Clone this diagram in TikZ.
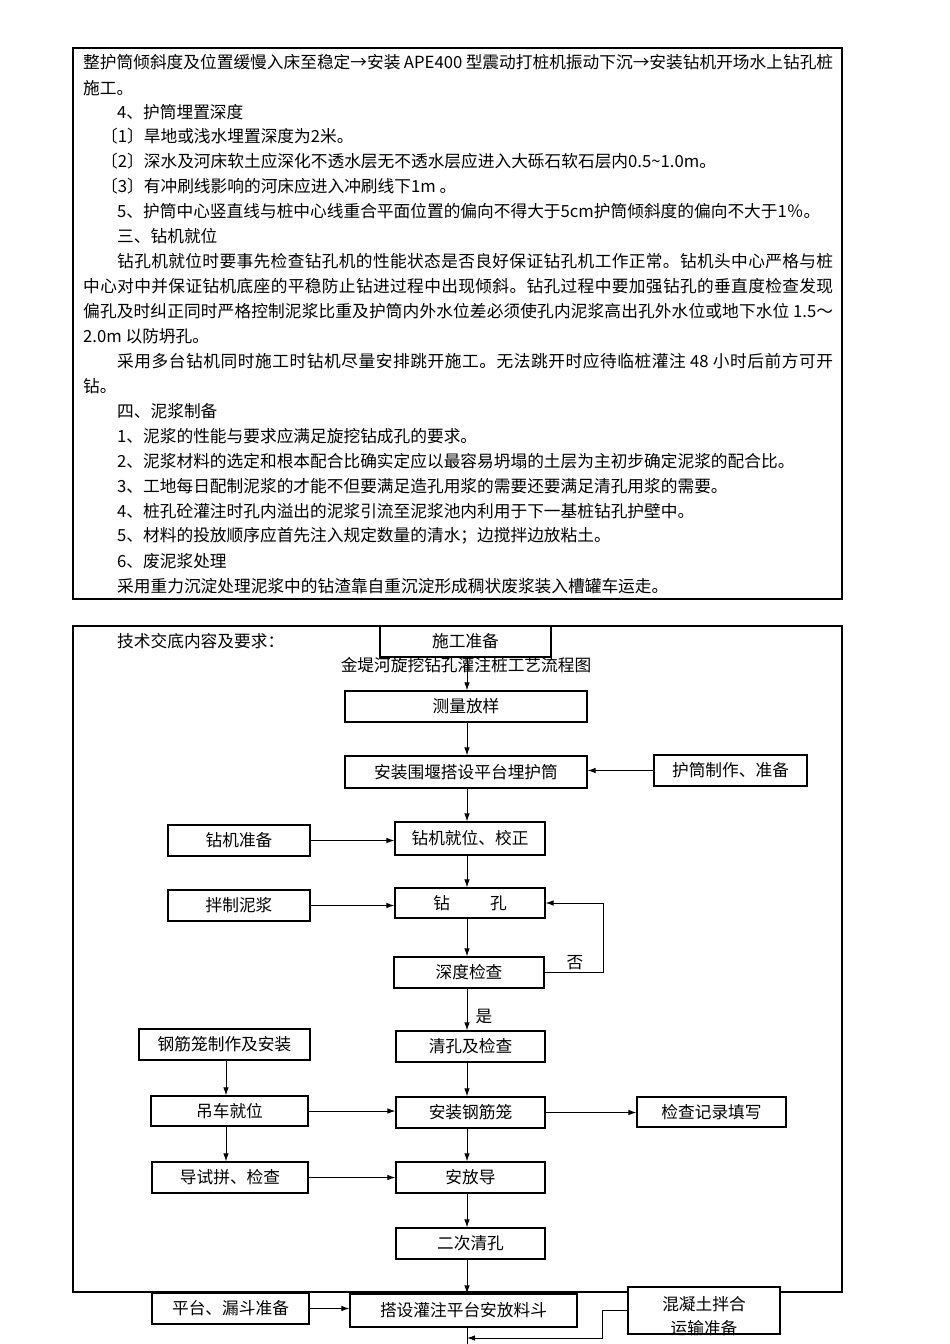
\documentclass[tikz,border=0pt]{standalone}
\usepackage{fontspec}
\setmainfont{Noto Sans CJK SC}
\usetikzlibrary{arrows.meta}
\newcommand\fs{\fontsize{16.7pt}{18pt}\selectfont}
\ExplSyntaxOn
\NewDocumentCommand\jl{mm}{\makebox[#1pt][s]{\tl_map_inline:nn{#2}{##1\hskip 0pt plus 1fil}\unskip}}
\ExplSyntaxOff
\tikzset{
  box/.style={draw, line width=1.1pt, fill=white, inner sep=0pt, font=\fs, align=center},
  txt/.style={anchor=west, inner sep=0pt, font=\fs},
  lbl/.style={inner sep=0pt, font=\fs},
  arr/.style={-{Latex[length=8pt,width=5.5pt]}, line width=1pt},
  frame/.style={line width=2.6pt},
}
\begin{document}
\begin{tikzpicture}[x=1pt,y=-1pt]
\fill[white] (0,0) rectangle (950,1344);
\useasboundingbox (0,0) rectangle (950,1344);

% ---------- upper text frame ----------
\draw[frame] (73,48) rectangle (842,599);
\node[txt] (t1) at (83,62) {\jl{750}{整护筒倾斜度及位置缓慢入床至稳定→安装{\ APE400\ }型震动打桩机振动下沉→安装钻机开场水上钻孔桩}};
\node[txt] (t2) at (83,88) {施工。};
\node[txt] (t3) at (117,112) {4、护筒埋置深度};
\node[txt] (t4) at (101,136) {〔1〕旱地或浅水埋置深度为2米。};
\node[txt] (t5) at (101,161) {〔2〕深水及河床软土应深化不透水层无不透水层应进入大砾石软石层内0.5\textasciitilde1.0m。};
\node[txt] (t6) at (101,186) {〔3〕有冲刷线影响的河床应进入冲刷线下1m 。};
\node[txt] (t7) at (117,211) {5、护筒中心竖直线与桩中心线重合平面位置的偏向不得大于5cm护筒倾斜度的偏向不大于1％。};
\node[txt] (t8) at (117,236) {三、钻机就位};
\node[txt] (t9) at (117,261) {\jl{716}{钻孔机就位时要事先检查钻孔机的性能状态是否良好保证钻孔机工作正常。钻机头中心严格与桩}};
\node[txt] (t10) at (83,286) {\jl{750}{中心对中并保证钻机底座的平稳防止钻进过程中出现倾斜。钻孔过程中要加强钻孔的垂直度检查发现}};
\node[txt] (t11) at (83,311) {\jl{750}{偏孔及时纠正同时严格控制泥浆比重及护筒内外水位差必须使孔内泥浆高出孔外水位或地下水位{\ 1.5}～}};
\node[txt] (t12) at (83,336) {2.0m 以防坍孔。};
\node[txt] (t13) at (117,361) {\jl{716}{采用多台钻机同时施工时钻机尽量安排跳开施工。无法跳开时应待临桩灌注{\ 48\ }小时后前方可开}};
\node[txt] (t14) at (83,386) {钻。};
\node[txt] (t15) at (117,411) {四、泥浆制备};
\node[txt] (t16) at (117,436) {1、泥浆的性能与要求应满足旋挖钻成孔的要求。};
\node[txt] (t17) at (117,461) {2、泥浆材料的选定和根本配合比确实定应以最容易坍塌的土层为主初步确定泥浆的配合比。};
\node[txt] (t18) at (117,486) {3、工地每日配制泥浆的才能不但要满足造孔用浆的需要还要满足清孔用浆的需要。};
\node[txt] (t19) at (117,511) {4、桩孔砼灌注时孔内溢出的泥浆引流至泥浆池内利用于下一基桩钻孔护壁中。};
\node[txt] (t20) at (117,536) {5、材料的投放顺序应首先注入规定数量的清水；边搅拌边放粘土。};
\node[txt] (t21) at (117,561) {6、废泥浆处理};
\node[txt] (t22) at (117,586) {采用重力沉淀处理泥浆中的钻渣靠自重沉淀形成稠状废浆装入槽罐车运走。};

% ---------- lower frame ----------
\draw[frame] (73,626) rectangle (842,1292);
\node[txt] (head) at (117,641) {技术交底内容及要求：};

\coordinate (ax) at (467,0);
\coordinate (lx) at (226,0);

\node[lbl] (title) at (466,665) {金堤河旋挖钻孔灌注桩工艺流程图};

\node[box, minimum width=171pt, minimum height=31pt] (prep) at (465.5,641.5) {施工准备};
\node[box, minimum width=242pt, minimum height=31pt] (survey) at (466,706.5) {测量放样};
\node[box, minimum width=242pt, minimum height=32pt] (coffer) at (466,772) {安装围堰搭设平台埋护筒};
\node[box, minimum width=153pt, minimum height=31pt] (casing) at (730.5,770.5) {护筒制作、准备};
\node[box, minimum width=142pt, minimum height=31pt] (rigprep) at (239,840.5) {钻机准备};
\node[box, minimum width=150pt, minimum height=33pt] (rigpos) at (470,838.5) {钻机就位、校正};
\node[box, minimum width=142pt, minimum height=31pt] (mud) at (239,905.5) {拌制泥浆};
\node[box, minimum width=150pt, minimum height=30pt] (drill) at (470,903) {钻\hspace{40pt}孔};
\node[box, minimum width=150pt, minimum height=31pt] (depth) at (469,972.5) {深度检查};
\node[box, minimum width=149pt, minimum height=31pt] (clean) at (470.5,1046.5) {清孔及检查};
\node[box, minimum width=171pt, minimum height=31pt] (cage) at (224.5,1044.5) {钢筋笼制作及安装};
\node[box, minimum width=157pt, minimum height=30pt] (crane) at (229.5,1111) {吊车就位};
\node[box, minimum width=149pt, minimum height=31pt] (install) at (470.5,1112.5) {安装钢筋笼};
\node[box, minimum width=149pt, minimum height=30pt] (record) at (711.5,1112) {检查记录填写};
\node[box, minimum width=156pt, minimum height=31pt] (trial) at (230,1177.5) {导试拼、检查};
\node[box, minimum width=149pt, minimum height=31pt] (place) at (470.5,1177.5) {安放导};
\node[box, minimum width=149pt, minimum height=31pt] (second) at (470.5,1243.5) {二次清孔};
\node[box, minimum width=227pt, minimum height=33pt] (platform) at (463.5,1310.5) {搭设灌注平台安放料斗};
\node[box, minimum width=157pt, minimum height=31pt] (funnel) at (230.5,1308.5) {平台、漏斗准备};
\node[box, minimum width=152pt, minimum height=47pt] (concrete) at (704,1310.5) {};
\node[lbl, align=center, font=\fontsize{16.7pt}{24pt}\selectfont] (concretetxt) at (704,1316) {混凝土拌合\\运输准备};

\node[lbl] (no) at (575,963) {否};
\node[lbl] (yes) at (484,1016) {是};

\coordinate (cend) at (467,1338);
\coordinate (pbot) at (467,1344);

% ---------- connectors ----------
\draw[arr] (prep.south -| ax) -- (survey.north -| ax);
\draw[arr] (survey.south -| ax) -- (coffer.north -| ax);
\draw[arr] (casing.west) -- (casing.west -| coffer.east);
\draw[arr] (coffer.south -| ax) -- (rigpos.north -| ax);
\draw[arr] (rigprep.east) -- (rigprep.east -| rigpos.west);
\draw[arr] (rigpos.south -| ax) -- (drill.north -| ax);
\draw[arr] (mud.east) -- (mud.east -| drill.west);
\draw[arr] (drill.south -| ax) -- (depth.north -| ax);
\draw[arr] (depth.east) -- ++(59,0) |- (drill.east);
\draw[arr] (depth.south -| ax) -- (clean.north -| ax);
\draw[arr] (clean.south -| ax) -- (install.north -| ax);
\draw[arr] (cage.south -| lx) -- (crane.north -| lx);
\draw[arr] (crane.east) -- (crane.east -| install.west);
\draw[arr] (install.east) -- (install.east -| record.west);
\draw[arr] (crane.south -| lx) -- (trial.north -| lx);
\draw[arr] (trial.east) -- (trial.east -| place.west);
\draw[arr] (install.south -| ax) -- (place.north -| ax);
\draw[arr] (place.south -| ax) -- (second.north -| ax);
\draw[arr] (second.south -| ax) -- (platform.north -| ax);
\draw[arr] (funnel.east) -- (funnel.east -| platform.west);
\draw[line width=1pt] (platform.south -| pbot) -- (pbot);
\draw[arr] (concrete.west) -- ++(-25,0) |- (cend);
\end{tikzpicture}
\end{document}
